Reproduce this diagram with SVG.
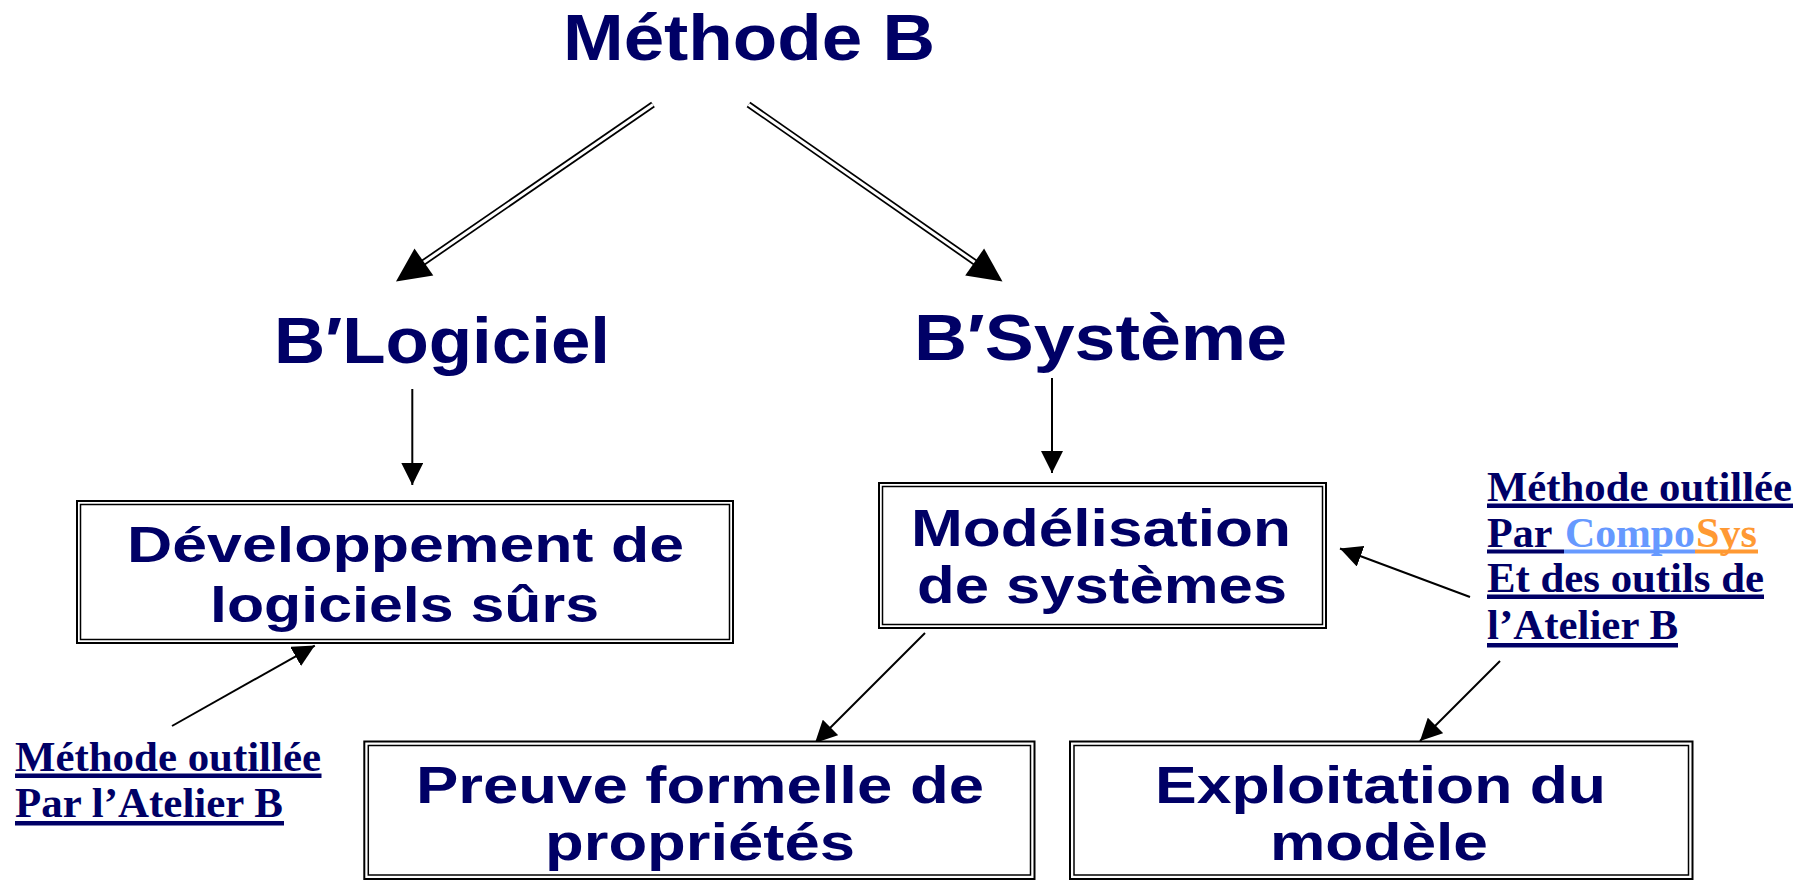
<svg xmlns="http://www.w3.org/2000/svg" width="1809" height="881" viewBox="0 0 1809 881">
<style>
.t{font-family:"Liberation Sans",Arial,Helvetica,sans-serif;font-weight:bold;fill:#000066}
.l{font-family:"Liberation Serif","Times New Roman",Times,serif;font-weight:bold;fill:#000066;font-size:42px}
.ul{fill:#000066}
.bo{fill:#fff;stroke:#000;stroke-width:2}
.bi{fill:none;stroke:#000;stroke-width:1.5}
.c{stroke:#000;stroke-width:2;fill:none}
.dl{stroke:#000;stroke-width:6.5;fill:none}
.dw{stroke:#fff;stroke-width:3;fill:none}
</style>
<defs>
<marker id="ah" markerUnits="userSpaceOnUse" markerWidth="22" markerHeight="22" refX="22" refY="11" orient="auto" viewBox="0 0 22 22">
<path d="M0,0 L22,11 L0,22 z" fill="#000"/>
</marker>
</defs>
<rect width="1809" height="881" fill="#fff"/>

<g id="connectors">
  <!-- double arrows from Méthode B -->
  <line class="dl" x1="653" y1="104.5" x2="419" y2="265.5"/>
  <line class="dw" x1="653" y1="104.5" x2="419" y2="265.5"/>
  <polygon points="396,281.5 433.3,275.6 414.5,248.6" fill="#000"/>
  <line class="dl" x1="748.5" y1="104.5" x2="979.5" y2="265.5"/>
  <line class="dw" x1="748.5" y1="104.5" x2="979.5" y2="265.5"/>
  <polygon points="1002.5,281.5 965.2,275.5 984.1,248.5" fill="#000"/>
  <!-- thin arrows -->
  <line class="c" x1="412.3" y1="389" x2="412.3" y2="485" marker-end="url(#ah)"/>
  <line class="c" x1="1052" y1="378" x2="1052" y2="473" marker-end="url(#ah)"/>
  <line class="c" x1="172" y1="726" x2="314.8" y2="645.6" marker-end="url(#ah)"/>
  <line class="c" x1="925" y1="633" x2="815" y2="743" marker-end="url(#ah)"/>
  <line class="c" x1="1470" y1="597" x2="1340" y2="548.5" marker-end="url(#ah)"/>
  <line class="c" x1="1500" y1="661" x2="1420" y2="741" marker-end="url(#ah)"/>
</g>

<g id="methode-b">
  <text class="t" x="563" y="60" font-size="64" textLength="372" lengthAdjust="spacingAndGlyphs">Méthode B</text>
</g>

<g id="b-logiciel">
  <text class="t" x="274" y="363" font-size="65" textLength="336" lengthAdjust="spacingAndGlyphs">B′Logiciel</text>
</g>

<g id="b-systeme">
  <text class="t" x="914" y="360" font-size="65" textLength="373" lengthAdjust="spacingAndGlyphs">B′Système</text>
</g>

<g id="developpement">
  <rect class="bo" x="77" y="501" width="656" height="142"/>
  <rect class="bi" x="80.5" y="504.5" width="649" height="135"/>
  <text class="t" x="127" y="562" font-size="50" textLength="557" lengthAdjust="spacingAndGlyphs">Développement de</text>
  <text class="t" x="210" y="622" font-size="50" textLength="389" lengthAdjust="spacingAndGlyphs">logiciels sûrs</text>
</g>

<g id="modelisation">
  <rect class="bo" x="879" y="483" width="447" height="145"/>
  <rect class="bi" x="882.5" y="486.5" width="440" height="138"/>
  <text class="t" x="911" y="546" font-size="52" textLength="380" lengthAdjust="spacingAndGlyphs">Modélisation</text>
  <text class="t" x="917" y="603" font-size="52" textLength="370" lengthAdjust="spacingAndGlyphs">de systèmes</text>
</g>

<g id="preuve">
  <rect class="bo" x="364.3" y="741.5" width="670.2" height="137.5"/>
  <rect class="bi" x="368.3" y="745.5" width="662.2" height="129.5"/>
  <text class="t" x="416" y="803" font-size="52" textLength="568" lengthAdjust="spacingAndGlyphs">Preuve formelle de</text>
  <text class="t" x="545" y="860" font-size="52" textLength="310" lengthAdjust="spacingAndGlyphs">propriétés</text>
</g>

<g id="exploitation">
  <rect class="bo" x="1070" y="741.5" width="622.5" height="137.5"/>
  <rect class="bi" x="1074" y="745.5" width="614.5" height="129.5"/>
  <text class="t" x="1155" y="803" font-size="52" textLength="451" lengthAdjust="spacingAndGlyphs">Exploitation du</text>
  <text class="t" x="1270" y="860" font-size="52" textLength="218" lengthAdjust="spacingAndGlyphs">modèle</text>
</g>

<g id="label-atelier">
  <text class="l" x="15" y="771" textLength="306" lengthAdjust="spacingAndGlyphs">Méthode outillée</text>
  <rect class="ul" x="15" y="773.5" width="306.5" height="4.5"/>
  <text class="l" x="15" y="817" textLength="268" lengthAdjust="spacingAndGlyphs">Par l’Atelier B</text>
  <rect class="ul" x="15" y="821" width="269" height="4.5"/>
</g>

<g id="label-composys">
  <text class="l" x="1487" y="501" textLength="305" lengthAdjust="spacingAndGlyphs">Méthode outillée</text>
  <rect class="ul" x="1487" y="503.5" width="306" height="4.5"/>
  <text class="l" x="1487" y="547">Par</text>
  <text class="l" x="1565" y="547" fill="#6699FF" style="fill:#6699FF" textLength="130" lengthAdjust="spacingAndGlyphs">Compo</text>
  <text class="l" x="1696" y="547" style="fill:#FF9933" textLength="61" lengthAdjust="spacingAndGlyphs">Sys</text>
  <rect class="ul" x="1487" y="549.5" width="77" height="4"/>
  <rect x="1564" y="549.5" width="131" height="4" fill="#6699FF"/>
  <rect x="1695" y="549.5" width="63" height="4" fill="#FF9933"/>
  <text class="l" x="1487" y="592" textLength="277" lengthAdjust="spacingAndGlyphs">Et des outils de</text>
  <rect class="ul" x="1487" y="594.5" width="277" height="4.5"/>
  <text class="l" x="1487" y="639" textLength="191" lengthAdjust="spacingAndGlyphs">l’Atelier B</text>
  <rect class="ul" x="1487" y="643" width="191" height="4.5"/>
</g>
</svg>
